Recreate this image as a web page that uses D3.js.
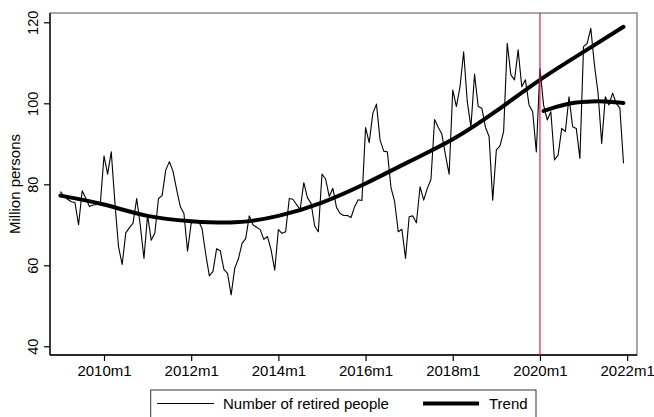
<!DOCTYPE html>
<html>
<head>
<meta charset="utf-8">
<script src="https://cdn.jsdelivr.net/npm/d3@7"></script>
<style>
  html, body { margin: 0; padding: 0; background: #fff; }
  svg { display: block; font-family: "Liberation Sans", Arial, Helvetica, sans-serif; }
</style>
</head>
<body>
<svg id="chart" width="654" height="417"></svg>
<script>
// ---------- data ----------
const startYear = 2009;
const retired = [
  78.2, 77.0, 76.3, 75.7, 75.5, 70.0, 78.4, 76.5, 74.5, 74.9, 75.0, 75.3,
  87.0, 82.5, 88.0, 75.5, 64.6, 60.2, 68.0, 69.3, 70.4, 76.5, 69.8, 61.7,
  72.4, 66.2, 68.0, 76.5, 77.2, 83.5, 85.6, 83.2, 78.7, 74.5, 72.8, 63.5,
  70.4, 71.0, 71.0, 69.0, 62.8, 57.4, 58.5, 64.1, 63.6, 59.0, 58.0, 52.7,
  59.3, 61.6, 65.4, 66.6, 72.2, 70.0, 69.4, 68.8, 66.4, 67.1, 63.8, 58.8,
  68.8, 67.9, 68.3, 76.5, 76.3, 75.0, 73.8, 80.4, 76.7, 75.3, 69.7, 68.3,
  82.5, 81.3, 77.0, 79.0, 74.3, 72.8, 72.3, 72.3, 71.8, 74.5, 76.2, 76.0,
  94.0, 90.3, 97.5, 99.8, 90.9, 88.2, 88.0, 79.2, 75.7, 68.3, 68.9, 61.7,
  72.0, 72.2, 70.5, 79.4, 76.1, 79.0, 81.2, 96.0, 94.1, 92.4, 87.2, 82.5,
  103.3, 99.2, 104.1, 112.7, 100.4, 94.1, 107.2, 99.2, 98.8, 94.1, 91.8, 76.1,
  88.5, 89.5, 93.0, 114.8, 107.0, 105.8, 113.2, 104.1, 105.8, 99.6, 97.9, 88.0,
  108.6, 99.6, 95.9, 97.9, 86.0, 87.2, 93.8, 93.0, 101.6, 94.2, 93.8, 86.4,
  114.0, 114.8, 118.5, 109.5, 102.5, 90.1, 101.6, 99.6, 102.5, 100.0, 98.8, 85.2
];
const trendLongMonths = ["2009m1","2010m1","2011m1","2012m1","2013m1","2014m1","2015m1",
                         "2016m1","2017m1","2018m1","2019m1","2020m1","2021m1","2021m12"];
const trendLongValues = [77.2, 75.0, 72.2, 70.9, 70.6, 72.2, 75.5,
                         80.2, 85.6, 91.1, 98.1, 105.8, 112.7, 118.9];
const trendShortMonths = ["2020m2","2020m5","2020m8","2020m11","2021m2","2021m5","2021m8","2021m12"];
const trendShortValues = [98.1, 99.0, 99.7, 100.2, 100.4, 100.5, 100.4, 100.1];
const xTickLabels = ["2010m1","2012m1","2014m1","2016m1","2018m1","2020m1","2022m1"];
const yTicks = [40, 60, 80, 100, 120];
const breakMonth = "2020m1";
const seriesNames = ["Number of retired people", "Trend"];

// month label <-> index
const months = retired.map((_, i) => `${startYear + Math.floor(i / 12)}m${(i % 12) + 1}`);
const idx = s => { const [y, m] = s.split("m").map(Number); return (y - startYear) * 12 + (m - 1); };

// ---------- layout ----------
const svg = d3.select("#chart");
const plot = { left: 50, right: 637, top: 13, bottom: 355 };

const x = d3.scaleLinear().domain([0, 155]).range([60.4, 623.5]);
const y = d3.scaleLinear().domain([40, 120]).range([346.3, 22.3]);

// plot region frame
svg.append("rect")
  .attr("x", plot.left).attr("y", plot.top)
  .attr("width", plot.right - plot.left).attr("height", plot.bottom - plot.top)
  .attr("fill", "none").attr("stroke", "#7a7a7a").attr("stroke-width", 1.3);

// y axis
const yAxis = d3.axisLeft(y).tickValues(yTicks).tickSize(6).tickPadding(0).tickFormat(d3.format("d"));
const gy = svg.append("g").attr("transform", `translate(${plot.left},0)`).call(yAxis);
gy.select(".domain").attr("d", `M0,${plot.top}V${plot.bottom}`).attr("stroke", "#000").attr("stroke-width", 1.3);
gy.selectAll(".tick line").attr("stroke", "#000").attr("stroke-width", 1.2);
gy.selectAll(".tick text")
  .attr("font-size", 14.5).attr("fill", "#000")
  .attr("text-anchor", "middle")
  .attr("transform", "rotate(-90)")
  .attr("x", 0).attr("y", -12).attr("dy", 0);

// x axis
const xAxis = d3.axisBottom(x).tickValues(xTickLabels.map(idx)).tickSize(6).tickPadding(0)
  .tickFormat(d => xTickLabels[xTickLabels.map(idx).indexOf(d)]);
const gx = svg.append("g").attr("transform", `translate(0,${plot.bottom})`).call(xAxis);
gx.select(".domain").attr("d", `M${plot.left},0H${plot.right}`).attr("stroke", "#000").attr("stroke-width", 1.3);
gx.selectAll(".tick line").attr("stroke", "#000").attr("stroke-width", 1.2);
gx.selectAll(".tick text").attr("font-size", 15).attr("fill", "#000").attr("y", 21).attr("dy", 0);

// y title
svg.append("text")
  .attr("transform", `translate(19.5,${(plot.top + plot.bottom) / 2}) rotate(-90)`)
  .attr("text-anchor", "middle").attr("font-size", 15).attr("fill", "#000")
  .text("Million persons");

// series
const line = d3.line().x(d => x(d[0])).y(d => y(d[1]));
svg.append("path")
  .datum(retired.map((v, i) => [i, v]))
  .attr("d", line).attr("fill", "none").attr("stroke", "#000").attr("stroke-width", 1.1)
  .attr("stroke-linejoin", "round");

const smooth = d3.line().x(d => x(d[0])).y(d => y(d[1])).curve(d3.curveNatural);
svg.append("path")
  .datum(trendLongMonths.map((m, i) => [idx(m), trendLongValues[i]]))
  .attr("d", smooth).attr("fill", "none").attr("stroke", "#000").attr("stroke-width", 4)
  .attr("stroke-linecap", "round");
svg.append("path")
  .datum(trendShortMonths.map((m, i) => [idx(m), trendShortValues[i]]))
  .attr("d", smooth).attr("fill", "none").attr("stroke", "#000").attr("stroke-width", 4)
  .attr("stroke-linecap", "round");

// break line
svg.append("line")
  .attr("x1", x(idx(breakMonth))).attr("x2", x(idx(breakMonth)))
  .attr("y1", plot.top).attr("y2", plot.bottom)
  .attr("stroke", "#d01e55").attr("stroke-width", 1.2);

// legend
const lg = svg.append("g");
lg.append("rect").attr("x", 150.7).attr("y", 390).attr("width", 385.3).attr("height", 40)
  .attr("fill", "#fff").attr("stroke", "#333").attr("stroke-width", 1);
lg.append("line").attr("x1", 157).attr("x2", 214).attr("y1", 403.5).attr("y2", 403.5)
  .attr("stroke", "#000").attr("stroke-width", 1.1);
lg.append("text").attr("x", 223).attr("y", 408.5).attr("font-size", 15).text(seriesNames[0]);
lg.append("line").attr("x1", 423).attr("x2", 479).attr("y1", 403.5).attr("y2", 403.5)
  .attr("stroke", "#000").attr("stroke-width", 4);
lg.append("text").attr("x", 489).attr("y", 408.5).attr("font-size", 15).text(seriesNames[1]);
</script>
</body>
</html>
